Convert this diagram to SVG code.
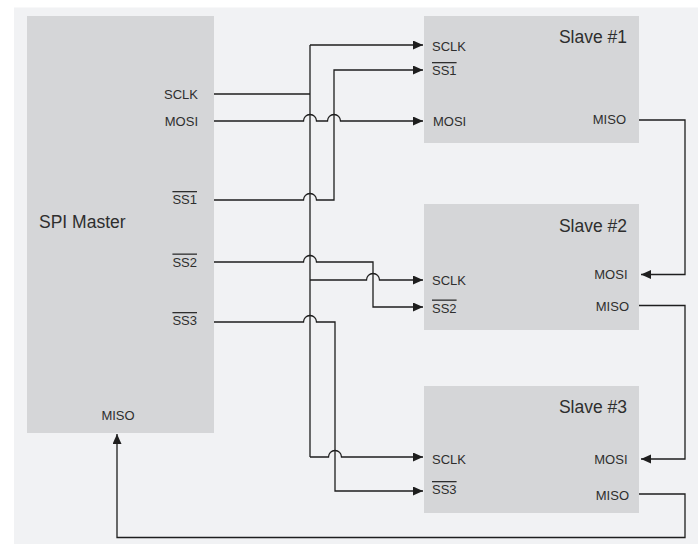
<svg xmlns="http://www.w3.org/2000/svg" width="700" height="544" viewBox="0 0 700 544">
<style>
.box{fill:#d5d6d8;}
.lbl{font-family:"Liberation Sans",Arial,sans-serif;font-size:13px;fill:#2e2e2e;}
.ttl{font-family:"Liberation Sans",Arial,sans-serif;font-size:17.5px;fill:#2e2e2e;}
.end{text-anchor:end;}
.mid{text-anchor:middle;}
.ov{text-decoration:overline;}
.w{fill:none;stroke:#1e1e1e;stroke-width:1.3;}
.a{marker-end:url(#arr);}
</style>
<defs>
<marker id="arr" markerUnits="userSpaceOnUse" markerWidth="11" markerHeight="10" refX="10" refY="4.5" orient="auto">
<path d="M0,0 L10,4.5 L0,9 z" fill="#1e1e1e"/>
</marker>
</defs>
<rect x="14" y="7.5" width="684" height="536.5" fill="#f1f2f4"/>
<g id="master">
<rect class="box" x="27" y="16" width="187" height="417"/>
<text class="ttl" x="39" y="228">SPI Master</text>
<text class="lbl end" x="198" y="99">SCLK</text>
<text class="lbl end" x="198" y="125.5">MOSI</text>
<text class="lbl end ov" x="197" y="204">SS1</text>
<text class="lbl end ov" x="197" y="266.5">SS2</text>
<text class="lbl end ov" x="197" y="325">SS3</text>
<text class="lbl mid" x="118" y="420">MISO</text>
</g>
<g id="slave1">
<rect class="box" x="424" y="16" width="215" height="127"/>
<text class="ttl end" x="627" y="43">Slave #1</text>
<text class="lbl" x="432" y="50.5">SCLK</text>
<text class="lbl ov" x="432" y="75">SS1</text>
<text class="lbl" x="433" y="125.5">MOSI</text>
<text class="lbl end" x="626" y="124">MISO</text>
</g>
<g id="slave2">
<rect class="box" x="424" y="204" width="215" height="126"/>
<text class="ttl end" x="627" y="231.5">Slave #2</text>
<text class="lbl" x="432" y="285">SCLK</text>
<text class="lbl ov" x="432" y="312.5">SS2</text>
<text class="lbl end" x="627.5" y="278.5">MOSI</text>
<text class="lbl end" x="629" y="310.5">MISO</text>
</g>
<g id="slave3">
<rect class="box" x="424" y="386" width="215" height="127"/>
<text class="ttl end" x="627" y="413">Slave #3</text>
<text class="lbl" x="432" y="463.5">SCLK</text>
<text class="lbl ov" x="432" y="494">SS3</text>
<text class="lbl end" x="627.5" y="463.5">MOSI</text>
<text class="lbl end" x="629" y="500">MISO</text>
</g>
<g id="connectors">
<!-- SCLK bus -->
<path class="w" d="M214,94 H310"/>
<path class="w" d="M310,45 V457"/>
<path class="w a" d="M310,45 H423"/>
<path class="w a" d="M310,280 H366.5 A6.5,6.5 0 0 1 379.5,280 H423"/>
<path class="w a" d="M310,457 H328.5 A6.5,6.5 0 0 1 341.5,457 H423"/>
<!-- MOSI -->
<path class="w a" d="M214,121 H303.5 A6.5,6.5 0 0 1 316.5,121 H327.5 A6.5,6.5 0 0 1 340.5,121 H423"/>
<!-- SS1 -->
<path class="w a" d="M214,200 H303.5 A6.5,6.5 0 0 1 316.5,200 H334 V70 H423"/>
<!-- SS2 -->
<path class="w a" d="M214,262 H303.5 A6.5,6.5 0 0 1 316.5,262 H373 V307 H423"/>
<!-- SS3 -->
<path class="w a" d="M214,322 H303.5 A6.5,6.5 0 0 1 316.5,322 H335 V491 H423"/>
<!-- MISO chain -->
<path class="w a" d="M639,120 H685 V274.5 H641"/>
<path class="w a" d="M639,305.5 H685 V459 H641"/>
<path class="w a" d="M639,494 H685 V537.5 H117 V434"/>
</g>
</svg>
